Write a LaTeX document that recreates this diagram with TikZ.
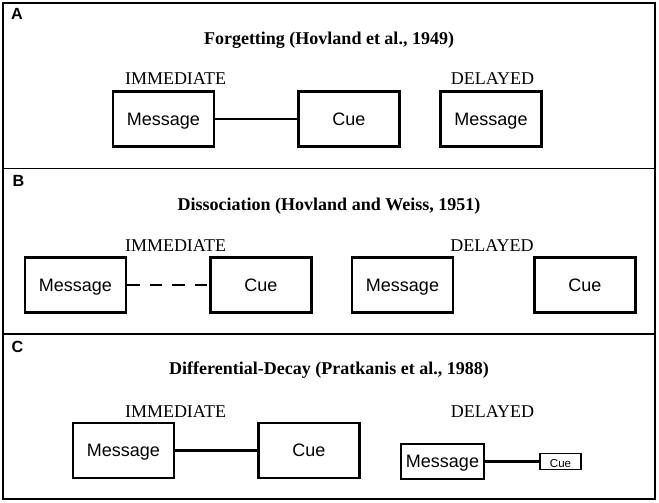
\documentclass[tikz,border=0pt]{standalone}
\usepackage{fontspec}
\setmainfont{Liberation Serif}
\setsansfont{Liberation Sans}
\usetikzlibrary{positioning}

\begin{document}
\begin{tikzpicture}[
    x=0.025cm, y=-0.025cm,
    box/.style={draw, line width=1.7pt, minimum width=2.525cm, minimum height=1.375cm,
                inner sep=0pt, text height=0.98em, text depth=0.1em,
                font=\sffamily\fontsize{12.8}{15}\selectfont},
    minibox/.style={draw, line width=1.7pt, minimum width=2.075cm, minimum height=0.875cm,
                inner sep=0pt, text height=0.98em, text depth=0.1em,
                font=\sffamily\fontsize{12.8}{15}\selectfont},
    tinybox/.style={draw, line width=1.2pt, minimum width=1.025cm, minimum height=0.4cm,
                inner sep=0pt, text height=0.9em, text depth=0.1em,
                font=\sffamily\fontsize{8.2}{10}\selectfont},
    ttl/.style={font=\bfseries\fontsize{12.8}{15}\selectfont},
    cond/.style={font=\fontsize{12.8}{15}\selectfont},
    panel/.style={font=\sffamily\bfseries\fontsize{11.5}{13}\selectfont},
    link/.style={line width=1.7pt},
    dlink/.style={line width=0.9pt, dash pattern=on 9pt off 7pt}
  ]
  \useasboundingbox (0,0) rectangle (659,503);

  % frame and panel rules
  \draw[line width=1.3pt] (3,3) rectangle (655,499);
  \draw[line width=1.3pt] (3,168.5) -- (655,168.5);
  \draw[line width=1.3pt] (3,334) -- (655,334);

  % A
  \node[panel] (pA) at (17,14) {A};
  \node[ttl] (tA) at (329,40) {Forgetting (Hovland et al., 1949)};
  \node[cond] (imA) at (175.5,79) {IMMEDIATE};
  \node[cond] (deA) at (492.5,79) {DELAYED};
  \node[box] (msgA) at (163.5,119) {Message};
  \node[box, right=2.05cm of msgA] (cueA) {Cue};
  \node[box] (msgAd) at (491,119) {Message};
  \draw[link] (msgA) -- (cueA);

  % B
  \node[panel] (pB) at (18.5,181) {B};
  \node[ttl] (tB) at (329,206) {Dissociation (Hovland and Weiss, 1951)};
  \node[cond] (imB) at (175.5,245.5) {IMMEDIATE};
  \node[cond] (deB) at (492,245.5) {DELAYED};
  \node[box] (msgB) at (75.5,285) {Message};
  \node[box, right=2.05cm of msgB] (cueB) {Cue};
  \node[box] (msgBd) at (402.5,285) {Message};
  \node[box] (cueBd) at (585,285) {Cue};
  \draw[dlink] (msgB) -- (cueB);

  % C
  \node[panel] (pC) at (17.5,347) {C};
  \node[ttl] (tC) at (329,370) {Differential-Decay (Pratkanis et al., 1988)};
  \node[cond] (imC) at (175.5,411.5) {IMMEDIATE};
  \node[cond] (deC) at (492.5,411.5) {DELAYED};
  \node[box] (msgC) at (123.5,450.5) {Message};
  \node[box, right=2.05cm of msgC] (cueC) {Cue};
  \node[minibox] (msgCd) at (442.5,461.5) {Message};
  \node[tinybox, right=1.35cm of msgCd] (cueCd) {Cue};
  \draw[link] (msgC) -- (cueC);
  \draw[link] (msgCd) -- (cueCd);
\end{tikzpicture}
\end{document}
